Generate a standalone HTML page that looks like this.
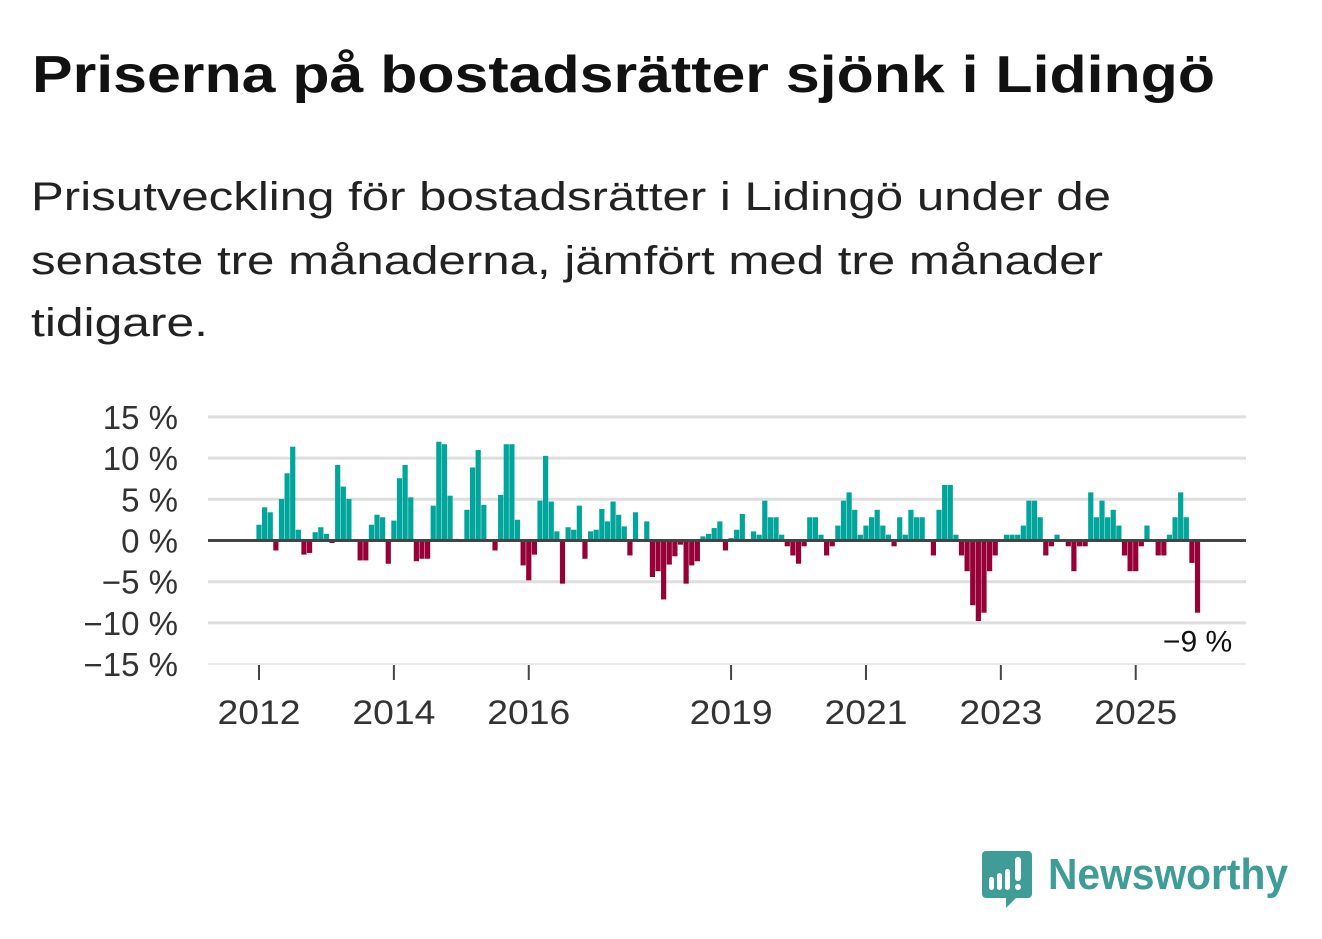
<!DOCTYPE html>
<html><head><meta charset="utf-8"><style>
html,body{margin:0;padding:0;background:#fff;}
svg{display:block;font-family:"Liberation Sans","DejaVu Sans",sans-serif;}
</style></head><body>
<svg id="chart" width="1322" height="939" viewBox="0 0 1322 939" xmlns="http://www.w3.org/2000/svg">
<text x="32" y="92" font-size="52" font-weight="bold" fill="#111" textLength="1183" lengthAdjust="spacingAndGlyphs">Priserna på bostadsrätter sjönk i Lidingö</text>
<g font-size="40" fill="#222">
<text x="31" y="210" textLength="1080" lengthAdjust="spacingAndGlyphs">Prisutveckling för bostadsrätter i Lidingö under de</text>
<text x="31" y="274" textLength="1072" lengthAdjust="spacingAndGlyphs">senaste tre månaderna, jämfört med tre månader</text>
<text x="31" y="336" textLength="177" lengthAdjust="spacingAndGlyphs">tidigare.</text>
</g>
<g id="grid"></g>
<g id="bars"></g>
<g id="axes"></g>
<g>
<path d="M986 851 h42 a4 4 0 0 1 4 4 v39 a4 4 0 0 1 -4 4 h-12 l-10 10 l0 -10 h-20 a4 4 0 0 1 -4 -4 v-39 a4 4 0 0 1 4 -4z" fill="#3f9c97"/>
<rect x="989" y="877" width="5" height="13" rx="2.5" fill="#fff"/>
<rect x="997" y="873" width="5" height="17" rx="2.5" fill="#fff"/>
<rect x="1005" y="869" width="5" height="21" rx="2.5" fill="#fff"/>
<rect x="1015" y="857" width="6" height="24" rx="3" fill="#fff"/>
<circle cx="1018" cy="887" r="3" fill="#fff"/>
<text x="1048" y="889" font-size="44" font-weight="bold" fill="#3f9c97" textLength="240" lengthAdjust="spacingAndGlyphs">Newsworthy</text>
</g>
</svg>
<script>
const values = [1.9,4.0,3.4,-1.2,5.0,8.1,11.3,1.3,-1.7,-1.5,1.0,1.6,
0.8,-0.3,9.1,6.5,5.0,0,-2.4,-2.4,1.9,3.1,2.8,-2.8,
2.4,7.5,9.1,5.2,-2.5,-2.2,-2.2,4.2,11.9,11.6,5.4,0.2,
0,3.7,8.8,10.9,4.3,0,-1.2,5.5,11.6,11.6,2.5,-3.0,
-4.8,-1.7,4.8,10.2,4.7,1.1,-5.2,1.6,1.3,4.2,-2.2,1.1,
1.3,3.8,2.3,4.7,3.1,1.7,-1.8,3.4,0,2.3,-4.4,-3.7,
-7.1,-2.9,-1.9,-0.5,-5.2,-3.0,-2.5,0.5,0.8,1.5,2.3,-1.2,
0.3,1.3,3.2,0.1,1.1,0.7,4.8,2.8,2.8,0.7,-0.7,-1.8,
-2.8,-0.7,2.8,2.8,0.7,-1.8,-0.7,1.8,4.8,5.8,3.7,0.7,
1.8,2.8,3.7,1.8,0.7,-0.7,2.8,0.7,3.7,2.8,2.8,0,
-1.8,3.7,6.7,6.7,0.7,-1.8,-3.7,-7.8,-9.7,-8.7,-3.7,-1.8,
0,0.7,0.7,0.7,1.8,4.8,4.8,2.8,-1.8,-0.7,0.7,0,
-0.7,-3.7,-0.7,-0.7,5.8,2.8,4.8,2.8,3.7,1.8,-1.8,-3.7,
-3.7,-0.7,1.8,0,-1.8,-1.8,0.7,2.8,5.8,2.8,-2.7,-8.7];
const yTicks = [15,10,5,0,-5,-10,-15];
const xTickYears = [2012,2014,2016,2019,2021,2023,2025];
const startYear = 2012;
const NS="http://www.w3.org/2000/svg";
const X0=208, X1=1246;
function x(i){return 259 + i*5.62;}
function yearX(yr){return x((yr-startYear)*12);}
function y(v){return 540.5 - v*8.3;}
function mk(tag,attrs,parent){const e=document.createElementNS(NS,tag);for(const k in attrs)e.setAttribute(k,attrs[k]);parent.appendChild(e);return e;}
const grid=document.getElementById('grid'), bars=document.getElementById('bars'), axes=document.getElementById('axes');
yTicks.forEach(t=>{
  const gy=540.5 - t*8.24;
  if(t!==0 && t!==-15){
    const l=mk('line',{x1:X0,x2:X1,y1:gy,y2:gy,stroke:'#dedede','stroke-width':3},grid);
    
    
  }
  const tx=mk('text',{x:178,y:gy+12,'text-anchor':'end','font-size':33,fill:'#333'},axes);
  tx.textContent=(t<0?'\u2212'+(-t):t)+' %';
  
  
});
const base=mk('line',{x1:X0,x2:X1,y1:664,y2:664,stroke:'#e4e4e4','stroke-width':1.5},axes);


values.forEach((v,i)=>{
  if(v===0)return;
  const top=Math.min(y(v),y(0)), h=Math.abs(y(v)-y(0));
  const r=mk('rect',{x:x(i)-2.6,y:top,width:5.2,height:h,fill:v>0?'#00a59b':'#960036'},bars);
  
  
});
const zl=mk('line',{x1:X0,x2:X1,y1:y(0),y2:y(0),stroke:'#444','stroke-width':3},axes);


xTickYears.forEach(yr=>{
  const tk=mk('line',{x1:yearX(yr),x2:yearX(yr),y1:665,y2:680,stroke:'#444','stroke-width':2},axes);
  
  
  const tx=mk('text',{x:yearX(yr),y:724,'text-anchor':'middle','font-size':34,fill:'#333',textLength:83,lengthAdjust:'spacingAndGlyphs'},axes);
  tx.textContent=yr;
  
  
});
const last=values[values.length-1], li=values.length-1;
const lbl=mk('text',{x:x(li),y:y(last)+39,'text-anchor':'middle','font-size':30,fill:'#111',stroke:'#fff','stroke-width':5,'paint-order':'stroke'},axes);
lbl.textContent=(last<0?'\u2212':'')+Math.round(Math.abs(last))+' %';


</script>
</body></html>
